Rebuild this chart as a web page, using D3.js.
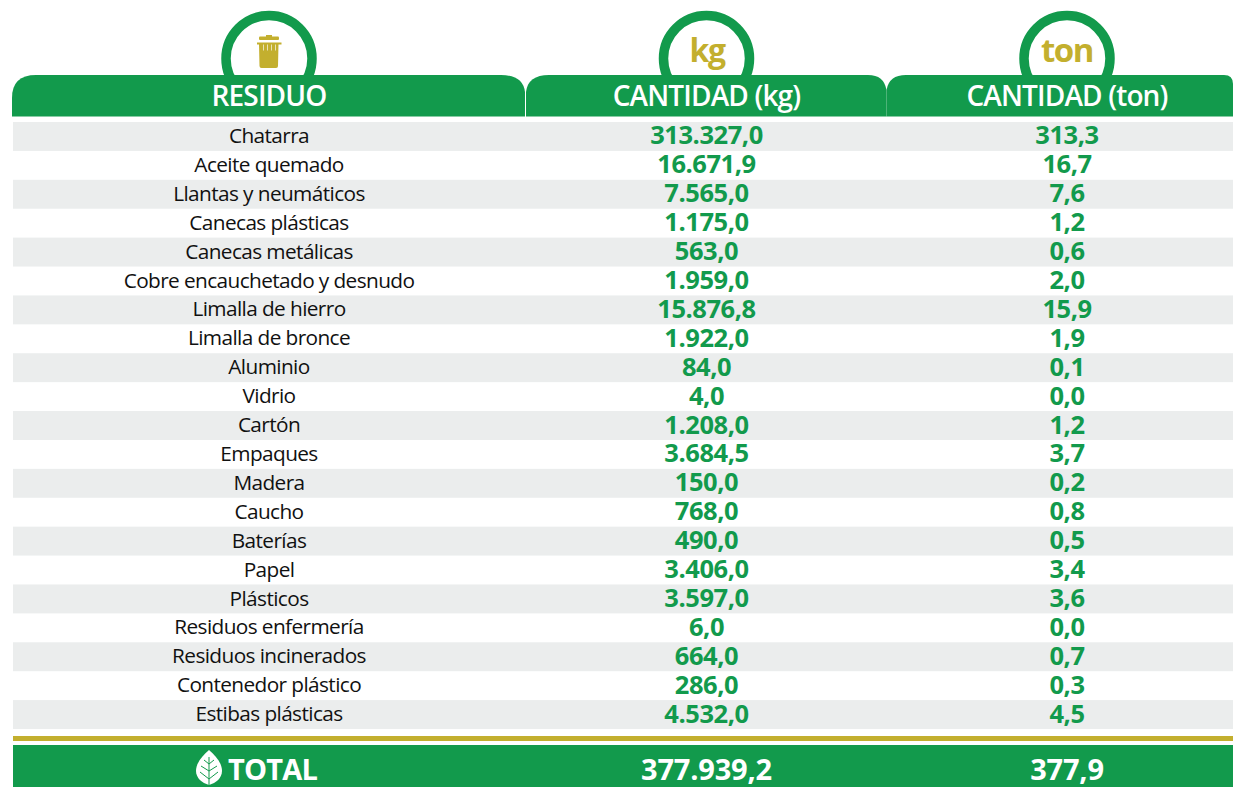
<!DOCTYPE html>
<html>
<head>
<meta charset="utf-8">
<script src="https://cdn.jsdelivr.net/npm/d3@7"></script>
<style>
  html, body { margin: 0; padding: 0; background: #fff; }
  svg { display: block; }
  text { font-family: "Open Sans", sans-serif; text-anchor: middle; }
</style>
</head>
<body>
<div id="chart"></div>
<script>
var residuos = ['Chatarra', 'Aceite quemado', 'Llantas y neumáticos', 'Canecas plásticas',
  'Canecas metálicas', 'Cobre encauchetado y desnudo', 'Limalla de hierro', 'Limalla de bronce',
  'Aluminio', 'Vidrio', 'Cartón', 'Empaques', 'Madera', 'Caucho', 'Baterías', 'Papel', 'Plásticos',
  'Residuos enfermería', 'Residuos incinerados', 'Contenedor plástico', 'Estibas plásticas'];
var cantidadKg = [313327.0, 16671.9, 7565.0, 1175.0, 563.0, 1959.0, 15876.8, 1922.0, 84.0, 4.0,
  1208.0, 3684.5, 150.0, 768.0, 490.0, 3406.0, 3597.0, 6.0, 664.0, 286.0, 4532.0];
var cantidadTon = [313.3, 16.7, 7.6, 1.2, 0.6, 2.0, 15.9, 1.9, 0.1, 0.0,
  1.2, 3.7, 0.2, 0.8, 0.5, 3.4, 3.6, 0.0, 0.7, 0.3, 4.5];
var totalKg = 377939.2;
var totalTon = 377.9;
var headers = ['RESIDUO', 'CANTIDAD (kg)', 'CANTIDAD (ton)'];
var colCenters = [269, 706.5, 1067];

var GREEN = '#129a4c', GOLD = '#c3af2e', GRAY = '#ebeded';
var width = 1233, height = 787;

var svg = d3.select('#chart').append('svg').attr('width', width).attr('height', height);

var es = d3.formatLocale({ decimal: ',', thousands: '.', grouping: [3], currency: ['', ''] });
var fmt = es.format(',.1f');

var y = d3.scaleBand().domain(residuos).range([122, 729]);
var colX = d3.scaleOrdinal().domain(headers).range(colCenters);

// rings behind the header tabs
svg.selectAll('.ring').data(headers).enter().append('circle')
  .attr('class', 'ring')
  .attr('cx', function(d) { return colX(d); })
  .attr('cy', 58.5)
  .attr('r', 43)
  .attr('fill', '#fff')
  .attr('stroke', GREEN)
  .attr('stroke-width', 9.5);

// header tabs
var tabs = [
  'M12,116.5 V98 Q12,75 36,75 H501 Q523,75 525,92 V116.5 Z',
  'M526,116.5 V92 Q528,75 549,75 H868 Q884,75 886.5,90 V116.5 Z',
  'M886.5,116.5 V90 Q889,75 906,75 H1224 Q1233,75 1233,84 V116.5 Z'
];
svg.selectAll('.tab').data(tabs).enter().append('path')
  .attr('class', 'tab')
  .attr('d', function(d) { return d; })
  .attr('fill', GREEN);

svg.selectAll('.head').data(headers).enter().append('text')
  .attr('class', 'head')
  .attr('x', function(d) { return colX(d); })
  .attr('y', 106)
  .attr('fill', '#fff')
  .attr('font-size', 28)
  .attr('font-weight', 600)
  .attr('letter-spacing', -0.85)
  .text(function(d) { return d; });

// ring icons
svg.append('text').attr('x', 707).attr('y', 62).attr('fill', GOLD)
  .attr('font-size', 32).attr('font-weight', 700).attr('letter-spacing', -1.5).text('kg');
svg.append('text').attr('x', 1067).attr('y', 62).attr('fill', GOLD)
  .attr('font-size', 33).attr('font-weight', 700).attr('letter-spacing', -1.5).text('ton');

var bin = svg.append('g').attr('fill', GOLD);
bin.append('rect').attr('x', 266).attr('y', 35).attr('width', 6).attr('height', 2);
bin.append('rect').attr('x', 259).attr('y', 36.5).attr('width', 20).attr('height', 3.5).attr('rx', 1);
bin.append('rect').attr('x', 257).attr('y', 42.5).attr('width', 24.5).attr('height', 2);
bin.append('path').attr('d', 'M259,44 H278.5 L278,66 Q278,68 276,68 H261.5 Q259.5,68 259.5,66 Z');
bin.selectAll('.slot').data([263, 267, 271, 275]).enter().append('rect')
  .attr('class', 'slot')
  .attr('x', function(d) { return d; })
  .attr('y', 44.5).attr('width', 1).attr('height', 6)
  .attr('fill', '#e9e3b8');

// rows
var rows = svg.selectAll('.row').data(residuos).enter().append('g').attr('class', 'row');

rows.filter(function(d, i) { return i % 2 === 0; }).append('rect')
  .attr('x', 13)
  .attr('y', function(d) { return y(d); })
  .attr('width', width - 13)
  .attr('height', y.bandwidth())
  .attr('fill', GRAY);

rows.append('text')
  .attr('class', 'name')
  .attr('x', 269)
  .attr('y', function(d) { return y(d) + y.bandwidth() / 2 + 6.6; })
  .attr('fill', '#111')
  .attr('font-size', 20.8)
  .attr('letter-spacing', -0.6)
  .text(function(d) { return d; });

rows.append('text')
  .attr('x', 706.5)
  .attr('y', function(d) { return y(d) + y.bandwidth() / 2 + 8; })
  .attr('fill', GREEN)
  .attr('font-size', 25.5)
  .attr('font-weight', 700)
  .attr('letter-spacing', -0.45)
  .text(function(d, i) { return fmt(cantidadKg[i]); });

rows.append('text')
  .attr('x', 1067)
  .attr('y', function(d) { return y(d) + y.bandwidth() / 2 + 8; })
  .attr('fill', GREEN)
  .attr('font-size', 25.5)
  .attr('font-weight', 700)
  .attr('letter-spacing', -0.45)
  .text(function(d, i) { return fmt(cantidadTon[i]); });

// total band
svg.append('rect').attr('x', 13).attr('y', 736).attr('width', width - 13).attr('height', 5).attr('fill', GOLD);
svg.append('rect').attr('x', 13).attr('y', 745).attr('width', width - 13).attr('height', 42).attr('fill', GREEN);

svg.append('text').attr('x', 272.5).attr('y', 779.5).attr('fill', '#fff')
  .attr('font-size', 29).attr('font-weight', 700).attr('letter-spacing', -0.8).text('TOTAL');
svg.append('text').attr('x', 706.5).attr('y', 779.5).attr('fill', '#fff')
  .attr('font-size', 29).attr('font-weight', 700).attr('letter-spacing', -0.2).text(fmt(totalKg));
svg.append('text').attr('x', 1067).attr('y', 779.5).attr('fill', '#fff')
  .attr('font-size', 29).attr('font-weight', 700).attr('letter-spacing', -0.2).text(fmt(totalTon));

// leaf next to TOTAL
var leaf = svg.append('g');
leaf.append('path').attr('d', 'M209,750 C216,756 222,763 222,771 C222,778 216,783 209,785 C202,783 196,778 196,771 C196,763 202,756 209,750 Z')
  .attr('fill', '#fff');
leaf.append('path')
  .attr('d', 'M209,757 V785 M209,764 L204,760 M209,764 L214,760 M209,771 L201,766 M209,771 L217,766 M209,779 L200,772 M209,779 L218,772')
  .attr('stroke', GREEN).attr('stroke-width', 1).attr('fill', 'none');
</script>
</body>
</html>
